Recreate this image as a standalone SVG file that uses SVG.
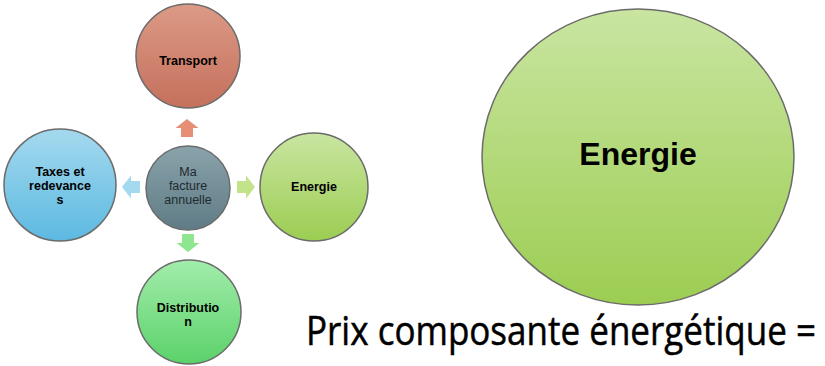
<svg xmlns="http://www.w3.org/2000/svg" width="825" height="366" viewBox="0 0 825 366">
<defs>
<linearGradient id="gT" x1="0" y1="0" x2="0" y2="1"><stop offset="0" stop-color="#dc9a86"/><stop offset="1" stop-color="#c4705c"/></linearGradient>
<linearGradient id="gC" x1="0" y1="0" x2="0" y2="1"><stop offset="0" stop-color="#8aa3ab"/><stop offset="1" stop-color="#5f7b85"/></linearGradient>
<linearGradient id="gX" x1="0" y1="0" x2="0" y2="1"><stop offset="0" stop-color="#a5d9ee"/><stop offset="1" stop-color="#5cb9e1"/></linearGradient>
<linearGradient id="gE" x1="0" y1="0" x2="0" y2="1"><stop offset="0" stop-color="#c9e5a1"/><stop offset="1" stop-color="#9ccd52"/></linearGradient>
<linearGradient id="gD" x1="0" y1="0" x2="0" y2="1"><stop offset="0" stop-color="#a2ecab"/><stop offset="1" stop-color="#5bd26a"/></linearGradient>
<path id="arr" d="M-9,-6 H0 V-11.5 L9,0 L0,11.5 V6 H-9 Z"/>
</defs>
<style>
.c{stroke:#6b6b6b;stroke-width:1.5}
.t{font-family:"Liberation Sans",Arial,sans-serif;font-size:12.5px;font-weight:bold;fill:#000;text-anchor:middle}
.m{font-family:"Liberation Sans",Arial,sans-serif;font-size:12.5px;fill:#1e2a2e;text-anchor:middle}
</style>
<rect width="825" height="366" fill="#fff"/>
<g id="connectors">
<use href="#arr" transform="translate(187,128) rotate(-90)" fill="#e68f76"/>
<use href="#arr" transform="translate(131,187) rotate(180)" fill="#a4daf0"/>
<use href="#arr" transform="translate(246,187)" fill="#c3e38b"/>
<use href="#arr" transform="translate(188,243) rotate(90)" fill="#8ee68f"/>
</g>
<g id="transport">
<circle class="c" cx="188" cy="56" r="52" fill="url(#gT)"/>
<text class="t" x="188" y="65">Transport</text>
</g>
<g id="center">
<circle class="c" cx="188" cy="188" r="42" fill="url(#gC)"/>
<text class="m" x="188" y="176">Ma</text>
<text class="m" x="188" y="190">facture</text>
<text class="m" x="188" y="204">annuelle</text>
</g>
<g id="taxes">
<circle class="c" cx="60" cy="185" r="56" fill="url(#gX)"/>
<text class="t" x="60" y="176">Taxes et</text>
<text class="t" x="60" y="190">redevance</text>
<text class="t" x="60" y="204">s</text>
</g>
<g id="energie-small">
<circle class="c" cx="314" cy="187" r="54" fill="url(#gE)"/>
<text class="t" x="314" y="191">Energie</text>
</g>
<g id="distribution">
<circle class="c" cx="189" cy="312" r="52" fill="url(#gD)"/>
<text class="t" x="188" y="312">Distributio</text>
<text class="t" x="188" y="326">n</text>
</g>
<g id="energie-big">
<ellipse class="c" cx="638" cy="157" rx="156" ry="148" fill="url(#gE)"/>
<text x="638" y="165" font-family="Liberation Sans,Arial,sans-serif" font-size="32" font-weight="bold" text-anchor="middle" fill="#000">Energie</text>
</g>
<text x="306" y="345" font-family="Open Sans,Liberation Sans,sans-serif" font-size="40" textLength="510" lengthAdjust="spacingAndGlyphs" fill="#000" stroke="#000" stroke-width="0.5">Prix composante énergétique =</text>
</svg>
